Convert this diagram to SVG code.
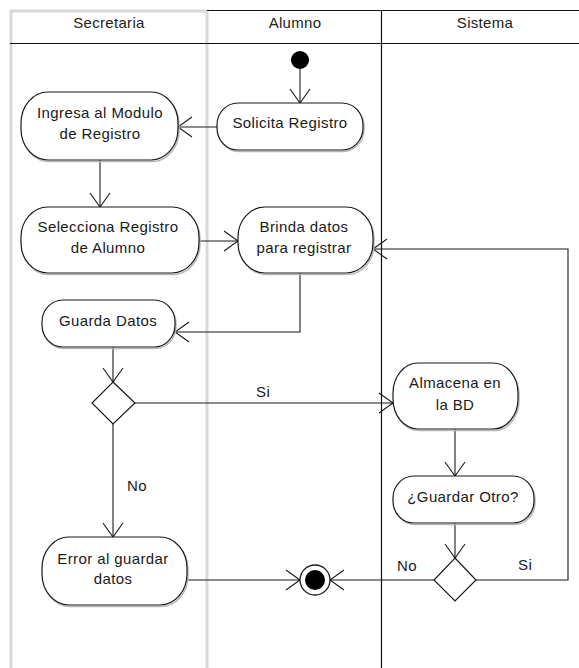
<svg xmlns="http://www.w3.org/2000/svg" width="579" height="668" viewBox="0 0 579 668">
  <defs>
    <style>
      .lane-gray { stroke: #d9d9d9; stroke-width: 3; fill: none; }
      .lane-dark { stroke: #111; stroke-width: 1.2; fill: none; }
      .lane-title { font-family: "Liberation Sans", Arial, sans-serif; font-size: 15px; fill: #222; text-anchor: middle; letter-spacing: 0.3px; }
      .act { fill: #fff; stroke: #1a1a1a; stroke-width: 1.2; }
      .shadow { fill: none; stroke: #b8b8b8; stroke-width: 1.5; }
      .lbl { font-family: "Liberation Sans", Arial, sans-serif; font-size: 15px; fill: #1a1a1a; text-anchor: middle; letter-spacing: 0.4px; }
      .guard { font-family: "Liberation Sans", Arial, sans-serif; font-size: 15px; fill: #1a1a1a; letter-spacing: 0.4px; }
      .flow { fill: none; stroke: #1a1a1a; stroke-width: 1.1; marker-end: url(#open); }
    </style>
    <marker id="open" markerUnits="userSpaceOnUse" viewBox="-1 -1 17 22" markerWidth="17" markerHeight="22" refX="14" refY="10" orient="auto" overflow="visible">
      <path d="M0,0 L14,10 L0,20" fill="none" stroke="#1a1a1a" stroke-width="1.1"/>
      <circle cx="14" cy="10" r="1.2" fill="#1a1a1a"/>
    </marker>
  </defs>

  <rect width="579" height="668" fill="#fff"/>

  <!-- swimlanes -->
  <g id="lanes">
    <path class="lane-gray" d="M11,668 V11 H207 V668"/>
    <path class="lane-dark" d="M207,10.5 H579"/>
    <path class="lane-dark" d="M381.5,10 V668"/>
    <path class="lane-dark" d="M10,43.5 H579"/>
    <text class="lane-title" x="109" y="28">Secretaria</text>
    <text class="lane-title" x="295" y="28">Alumno</text>
    <text class="lane-title" x="485" y="28">Sistema</text>
  </g>

  <!-- connectors -->
  <g id="connectors">
    <path class="flow" d="M300,69 V103"/>
    <path class="flow" d="M217,127 H178"/>
    <path class="flow" d="M100,160 V207"/>
    <path class="flow" d="M199,241 H238"/>
    <path class="flow" d="M300,273 V332 H175"/>
    <path class="flow" d="M113,347 V382"/>
    <path class="flow" d="M135,403 H393"/>
    <text class="guard" x="256" y="397">Si</text>
    <path class="flow" d="M113,424 V537"/>
    <text class="guard" x="127" y="491">No</text>
    <path class="flow" d="M455,429 V476"/>
    <path class="flow" d="M455,523 V558"/>
    <path class="flow" d="M434,580 H330"/>
    <text class="guard" x="397" y="571">No</text>
    <path class="flow" d="M476,580 H568 V249 H373"/>
    <text class="guard" x="518" y="570">Si</text>
    <path class="flow" d="M187,580 H300"/>
  </g>

  <!-- nodes -->
  <g id="start">
    <circle cx="300" cy="60" r="9" fill="#000"/>
  </g>

  <g id="solicita-registro">
    <rect class="shadow" x="218" y="104.5" width="146" height="47" rx="21" ry="22"/>
    <rect class="act" x="217" y="103" width="146" height="47" rx="21" ry="22"/>
    <text class="lbl" x="290" y="128">Solicita Registro</text>
  </g>

  <g id="ingresa-modulo">
    <rect class="shadow" x="22" y="93.5" width="157" height="68" rx="27" ry="31"/>
    <rect class="act" x="21" y="92" width="157" height="68" rx="27" ry="31"/>
    <text class="lbl" x="100" y="118">Ingresa al Modulo</text>
    <text class="lbl" x="100" y="139">de Registro</text>
  </g>

  <g id="selecciona-registro">
    <rect class="shadow" x="22" y="208.5" width="178" height="66" rx="27" ry="30"/>
    <rect class="act" x="21" y="207" width="178" height="66" rx="27" ry="30"/>
    <text class="lbl" x="108" y="232">Selecciona Registro</text>
    <text class="lbl" x="108" y="253">de Alumno</text>
  </g>

  <g id="brinda-datos">
    <rect class="shadow" x="239" y="208.5" width="135" height="66" rx="27" ry="30"/>
    <rect class="act" x="238" y="207" width="135" height="66" rx="27" ry="30"/>
    <text class="lbl" x="304" y="232">Brinda datos</text>
    <text class="lbl" x="304" y="253">para registrar</text>
  </g>

  <g id="guarda-datos">
    <rect class="shadow" x="43" y="301.5" width="133" height="47" rx="21" ry="22"/>
    <rect class="act" x="42" y="300" width="133" height="47" rx="21" ry="22"/>
    <text class="lbl" x="108" y="326">Guarda Datos</text>
  </g>

  <g id="decision-guardado">
    <path class="act" d="M113,382 L135,403 L113,424 L92,403 Z"/>
  </g>

  <g id="almacena-bd">
    <rect class="shadow" x="394" y="364.5" width="125" height="66" rx="25" ry="30"/>
    <rect class="act" x="393" y="363" width="125" height="66" rx="25" ry="30"/>
    <text class="lbl" x="455" y="388">Almacena en</text>
    <text class="lbl" x="455" y="410">la BD</text>
  </g>

  <g id="guardar-otro">
    <rect class="shadow" x="394" y="477.5" width="141" height="47" rx="21" ry="22"/>
    <rect class="act" x="393" y="476" width="141" height="47" rx="21" ry="22"/>
    <text class="lbl" x="463" y="502">¿Guardar Otro?</text>
  </g>

  <g id="decision-otro">
    <path class="act" d="M455,558 L476,580 L455,601 L434,580 Z"/>
  </g>

  <g id="error-guardar">
    <rect class="shadow" x="43" y="538.5" width="145" height="68" rx="27" ry="31"/>
    <rect class="act" x="42" y="537" width="145" height="68" rx="27" ry="31"/>
    <text class="lbl" x="113" y="564">Error al guardar</text>
    <text class="lbl" x="113" y="584">datos</text>
  </g>

  <g id="end">
    <circle cx="315" cy="580" r="15" fill="#fff" stroke="#1a1a1a" stroke-width="1.3"/>
    <circle cx="315" cy="580" r="10" fill="#000"/>
  </g>
</svg>
